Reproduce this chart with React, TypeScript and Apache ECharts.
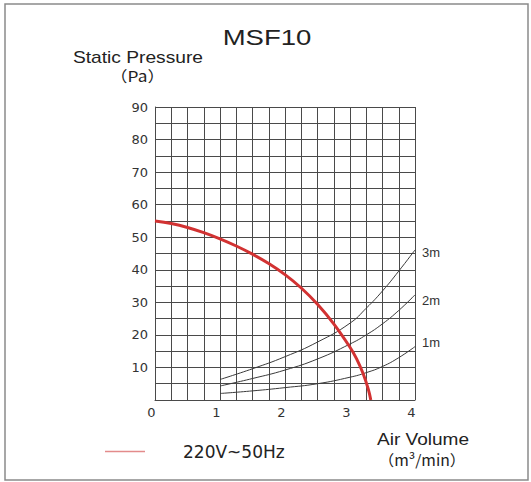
import React, { useEffect, useRef } from "react";
import * as echarts from "echarts";

const chartTitle = "MSF10";
const seriesNames = ["220V~50Hz", "3m", "2m", "1m"];
const xTicks = [0, 1, 2, 3, 4];
const yTicks = [10, 20, 30, 40, 50, 60, 70, 80, 90];

const fanVolume = [0, 0.25, 0.5, 0.75, 1, 1.25, 1.5, 1.75, 2, 2.25, 2.5, 2.75, 3, 3.1, 3.2, 3.28, 3.32];
const fanPressure = [55, 54.2, 53.0, 51.4, 49.5, 47.3, 44.8, 41.9, 38.5, 34.4, 29.4, 23.4, 16.2, 12.7, 8.2, 3.4, 0];

const ductVolume = [1, 1.5, 2, 2.5, 3, 3.25, 3.5, 3.75, 4];
const duct3m = [6.3, 9.6, 13.3, 17.8, 23.6, 28.2, 33.5, 39.6, 46.1];
const duct2m = [4.3, 6.6, 9.2, 12.6, 17.2, 20.0, 23.4, 27.5, 32.3];
const duct1m = [2.0, 2.8, 3.8, 5.0, 7.0, 8.4, 10.3, 13.0, 16.4];

const pairs = (xs: number[], ys: number[]) => xs.map((x, i) => [x, ys[i]]);

const SANS = "'Liberation Sans', Arial, 'Noto Sans CJK SC', sans-serif";
const CJK = "'Noto Sans CJK SC', 'Liberation Sans', sans-serif";
const DJ = "'DejaVu Sans', sans-serif";

export default function App() {
  const ref = useRef<HTMLDivElement>(null);
  useEffect(() => {
    if (!ref.current) return;
    const chart = echarts.init(ref.current, undefined, { renderer: "svg" });
    const gridColor = "#4a4a4a";
    const ductLine = (name: string, ys: number[], dy: number) => ({
      name,
      type: "line",
      data: pairs(ductVolume, ys),
      smooth: 0.5,
      showSymbol: false,
      symbol: "none",
      lineStyle: { color: "#3a3a3a", width: 1 },
      itemStyle: { color: "#3a3a3a" },
      endLabel: {
        show: true,
        formatter: "{a}",
        distance: 7,
        offset: [0, dy],
        fontFamily: SANS,
        fontSize: 13,
        color: "#333",
      },
      labelLayout: { hideOverlap: false },
      z: 3,
    });
    const txt = (text: string, x: number, y: number, size: number, sx: number, family = SANS) => ({
      type: "text",
      x,
      y,
      scaleX: sx,
      style: {
        text,
        fontFamily: family,
        fontSize: size,
        fill: "#222",
        align: "center",
        verticalAlign: "middle",
      },
    });
    chart.setOption({
      animation: false,
      backgroundColor: "#fff",
      grid: { left: 155, right: 116, top: 107, bottom: 82, containLabel: false },
      xAxis: {
        type: "value",
        min: 0,
        max: 4,
        interval: 0.25,
        axisLine: { show: true, lineStyle: { color: gridColor, width: 1 } },
        axisTick: { show: false },
        axisLabel: {
          margin: 6,
          fontFamily: DJ,
          fontSize: 13,
          color: "#333",
          padding: [0, 7, 0, 0],
          formatter: (v: number) => (xTicks.includes(v) ? String(v) : ""),
        },
        splitLine: { show: true, lineStyle: { color: gridColor, width: 1 } },
      },
      yAxis: {
        type: "value",
        min: 0,
        max: 90,
        interval: 5,
        axisLine: { show: true, lineStyle: { color: gridColor, width: 1 } },
        axisTick: { show: false },
        axisLabel: {
          margin: 7,
          fontFamily: DJ,
          fontSize: 13,
          color: "#333",
          formatter: (v: number) => (yTicks.includes(v) ? String(v) : ""),
        },
        splitLine: { show: true, lineStyle: { color: gridColor, width: 1 } },
      },
      legend: {
        data: [seriesNames[0]],
        left: 105,
        top: 443,
        padding: 0,
        icon: "rect",
        itemWidth: 40,
        itemHeight: 1.5,
        itemStyle: { color: "#e38b8b" },
        textStyle: {
          fontFamily: DJ,
          fontSize: 17,
          color: "#222",
          padding: [0, 0, 0, 33],
        },
      },
      graphic: [
        {
          type: "rect",
          shape: { x: 5, y: 4, width: 523, height: 476 },
          style: { fill: "none", stroke: "#8a8a8a", lineWidth: 1.5 },
          silent: true,
        },
        txt(chartTitle, 267, 37, 22, 1.25),
        txt("Static Pressure", 138, 57.5, 16, 1.2),
        txt("（Pa）", 137.5, 75.5, 15, 1.15, CJK),
        txt("Air Volume", 423, 440, 16, 1.19),
        txt("（m³/min）", 422, 459.5, 15, 1.05, CJK),
      ],
      series: [
        {
          name: seriesNames[0],
          type: "line",
          data: pairs(fanVolume, fanPressure),
          smooth: 0.4,
          showSymbol: false,
          symbol: "none",
          lineStyle: { color: "#d23232", width: 3 },
          itemStyle: { color: "#e38b8b" },
          z: 4,
        },
        ductLine(seriesNames[1], duct3m, 3),
        ductLine(seriesNames[2], duct2m, 6),
        ductLine(seriesNames[3], duct1m, -4),
      ],
    });
    return () => chart.dispose();
  }, []);
  return (
    <div
      ref={ref}
      style={{ position: "absolute", left: 0, top: 0, width: 531, height: 482, background: "#fff" }}
    />
  );
}
